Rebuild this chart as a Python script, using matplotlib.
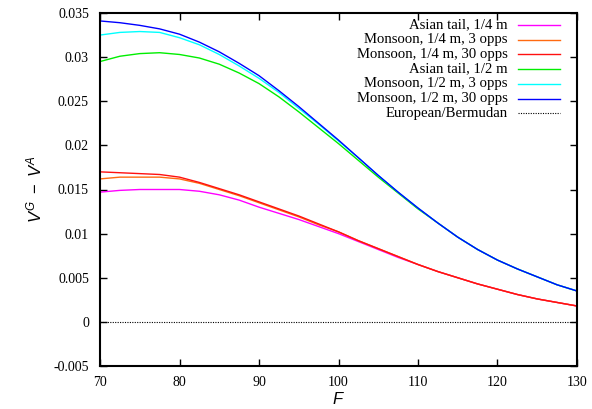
import matplotlib
matplotlib.use("Agg")
import matplotlib.pyplot as plt
from matplotlib.lines import Line2D

F = [70, 72.5, 75, 77.5, 80, 82.5, 85, 87.5, 90, 92.5, 95, 97.5, 100, 102.5, 105,
     107.5, 110, 112.5, 115, 117.5, 120, 122.5, 125, 127.5, 130]

asian_q = [.0147, .0149, .0150, .0150, .0150, .0148, .0144, .0138, .0130, .0123, .0116, .0108, .0100,
           .0091, .0082, .0073, .0065, .0057, .0050, .0043, .0037, .0031, .0026, .0022, .0018]
mons_q3 = [.0162, .0164, .0164, .0164, .0162, .0157, .0150, .0143, .0135, .0127, .0119, .0110, .0102,
           .0092, .0083, .0074, .0065, .0057, .0050, .0043, .0037, .0031, .0026, .0022, .0018]
mons_q30 = [.0170, .0169, .0168, .0167, .0164, .0158, .0151, .0144, .0136, .0128, .0120, .0111, .0102,
            .0092, .0083, .0074, .0065, .0057, .0050, .0043, .0037, .0031, .0026, .0022, .0018]
asian_h = [.0295, .0301, .0304, .0305, .0303, .0299, .0292, .0282, .0270, .0255, .0238, .0220, .0202,
           .0183, .0164, .0146, .0128, .0112, .0096, .0082, .0070, .0060, .0051, .0042, .0035]
mons_h3 = [.0325, .0328, .0329, .0328, .0322, .0314, .0303, .0290, .0276, .0260, .0242, .0224, .0205,
           .0186, .0166, .0147, .0129, .0112, .0096, .0082, .0070, .0060, .0051, .0042, .0035]
mons_h30 = [.0341, .0339, .0336, .0332, .0326, .0317, .0306, .0293, .0279, .0262, .0244, .0225, .0206,
            .0186, .0166, .0147, .0129, .0112, .0096, .0082, .0070, .0060, .0051, .0042, .0035]
euro = [0.0] * len(F)

labels = ["Asian tail, 1/4 m", "Monsoon, 1/4 m, 3 opps", "Monsoon, 1/4 m, 30 opps",
          "Asian tail, 1/2 m", "Monsoon, 1/2 m, 3 opps", "Monsoon, 1/2 m, 30 opps",
          "European/Bermudan"]
colors = ["#ff00ff", "#ff6a10", "#ff1010", "#00ee00", "#00ffff", "#0000ff", "black"]
series = [asian_q, mons_q3, mons_q30, asian_h, mons_h3, mons_h30, euro]

xticks = [70, 80, 90, 100, 110, 120, 130]
yticks = [-0.005, 0, 0.005, 0.01, 0.015, 0.02, 0.025, 0.03, 0.035]
ytick_labels = ["-0.005", "0", "0.005", "0.01", "0.015", "0.02", "0.025", "0.03", "0.035"]

plt.rcParams['mathtext.fontset'] = 'custom'
plt.rcParams['mathtext.it'] = 'Liberation Sans:italic'
plt.rcParams['mathtext.rm'] = 'Liberation Sans'

W, H = 592, 409
fig = plt.figure(figsize=(W / 100, H / 100), dpi=100)
ax = fig.add_axes([100/W, 1-366/H, 477/W, 353/H])

dotted = (0, (1, 1.2))
for ys, c, lab in zip(series, colors, labels):
    if lab == "European/Bermudan":
        ax.plot(F, ys, color=c, lw=0.8, ls=dotted)
    else:
        ax.plot(F, ys, color=c, lw=1.0)

ax.set_xlim(70, 130)
ax.set_ylim(-0.005, 0.035)
ax.set_xticks(xticks)
ax.set_xticklabels([str(t) for t in xticks], family="Liberation Serif", fontsize=10)
ax.set_yticks(yticks)
ax.set_yticklabels(ytick_labels, family="Liberation Serif", fontsize=10)
ax.tick_params(direction="in", length=5, width=1, top=True, right=True)
ax.tick_params(axis="y", pad=8)
ax.tick_params(axis="x", pad=7)
for s in ax.spines.values():
    s.set_linewidth(1.5)

ax.set_xlabel("$F$", fontsize=12, labelpad=1)
ax.set_ylabel("$V^G\\ -\\ V^A$", fontsize=12, labelpad=6)

# legend: right-aligned labels followed by line samples (gnuplot style)
for i, (c, lab) in enumerate(zip(colors, labels)):
    ypix = 25 + 14.7 * i
    yf = 1 - ypix / H
    fig.text(508 / W, yf, lab, ha="right", va="center", family="Liberation Serif", fontsize=10.6)
    if lab == "European/Bermudan":
        fig.add_artist(Line2D([518 / W, 560 / W], [yf, yf], color=c, lw=0.8, ls=dotted))
    else:
        fig.add_artist(Line2D([518 / W, 560 / W], [yf, yf], color=c, lw=1.0))

fig.savefig("out.png", dpi=100)
